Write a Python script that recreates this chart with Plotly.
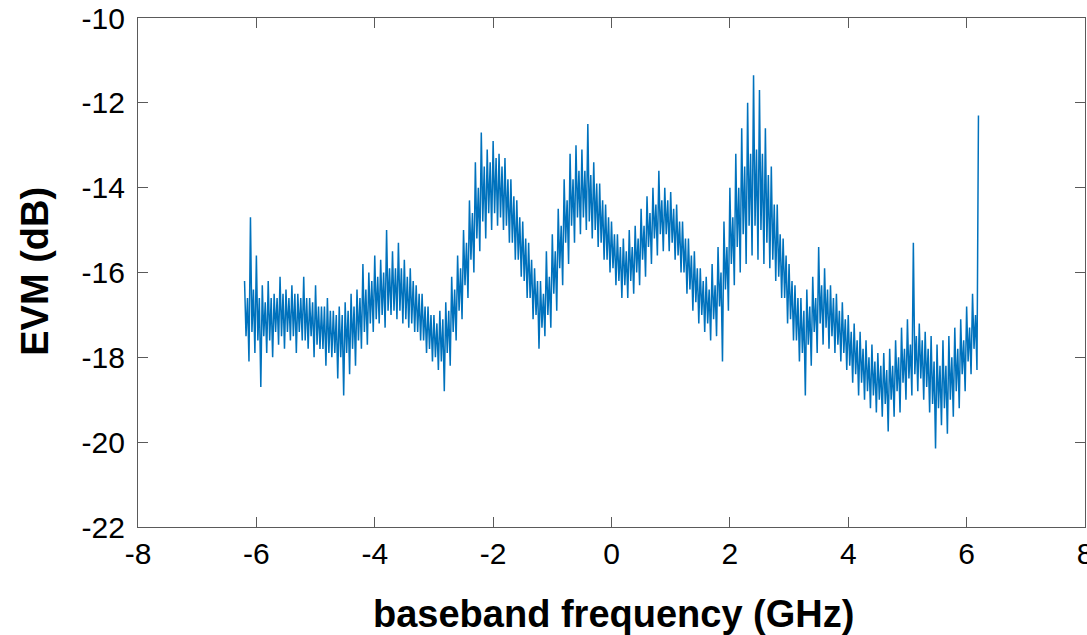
import plotly.graph_objects as go

# Frequency grid start/step (GHz) for the read-off samples
f_start = -6.2
f_step = 0.1

# Outer upper excursions of the EVM trace, read at f_start + k*f_step (dB)
upper_db = [
    -16.2, -14.7, -15.6, -16.3, -16.2, -16.5, -16.1, -16.4, -16.3, -16.5,
    -16.1, -16.6, -16.3, -16.8, -16.6, -16.9, -16.8, -16.7, -16.5, -16.4,
    -15.8, -16.0, -15.6, -15.7, -15.0, -15.5, -15.3, -15.7, -15.9, -16.3,
    -16.5, -16.8, -17.0, -16.9, -16.7, -16.1, -15.6, -15.0, -14.3, -13.4,
    -12.7, -13.1, -12.9, -13.2, -13.3, -13.8, -14.3, -14.8, -15.3, -15.9,
    -16.2, -15.5, -15.1, -14.5, -13.8, -13.2, -13.0, -13.1, -12.5, -13.4,
    -13.9, -14.4, -14.8, -15.1, -15.2, -15.0, -14.9, -14.5, -14.2, -14.0,
    -13.6, -14.0, -14.1, -14.4, -14.8, -15.2, -15.5, -15.9, -16.1, -15.8,
    -15.4, -14.8, -14.0, -13.2, -12.6, -12.0, -11.35, -11.7, -12.6, -13.5,
    -14.4, -15.2, -15.8, -16.3, -16.6, -16.4, -16.1, -15.4, -15.9, -16.3,
    -16.5, -16.7, -17.0, -17.2, -17.4, -17.6, -17.7, -17.9, -17.9, -17.8,
    -17.6, -17.3, -17.1, -15.3, -17.2, -17.4, -17.5, -17.7, -17.6, -17.5,
    -17.3, -17.1, -16.8, -16.5, -12.3,
]

# Dense core: lower edge, read at f_start + (k+0.25)*f_step (dB)
core_low_db = [
    -17.5, -17.4, -17.6, -17.5, -17.6, -17.4, -17.5, -17.4, -17.5, -17.4,
    -17.6, -17.5, -17.7, -17.8, -17.9, -17.9, -18.0, -17.9, -17.8, -17.6,
    -17.4, -17.2, -17.1, -17.0, -16.9, -16.9, -16.9, -17.1, -17.2, -17.4,
    -17.6, -17.8, -18.0, -18.1, -17.9, -17.4, -16.9, -16.3, -15.7, -15.2,
    -14.8, -14.6, -14.6, -14.7, -14.9, -15.3, -15.7, -16.2, -16.6, -17.0,
    -17.3, -17.0, -16.5, -15.9, -15.3, -14.9, -14.7, -14.7, -14.8, -15.0,
    -15.3, -15.7, -15.9, -16.2, -16.3, -16.2, -16.0, -15.7, -15.4, -15.2,
    -15.1, -15.1, -15.3, -15.6, -16.0, -16.4, -16.7, -17.0, -17.2, -17.1,
    -16.8, -16.4, -15.8, -15.4, -15.1, -14.9, -14.9, -15.0, -15.3, -15.7,
    -16.1, -16.6, -17.1, -17.6, -17.9, -17.7, -17.4, -17.2, -17.3, -17.5,
    -17.7, -17.9, -18.2, -18.4, -18.6, -18.8, -18.9, -19.0, -19.1, -19.0,
    -18.8, -18.6, -18.5, -18.4, -18.5, -18.7, -19.1, -19.2, -19.2, -19.0,
    -18.8, -18.4, -18.1, -17.8,
]

# Dense core: upper edge, read at f_start + (k+0.5)*f_step (dB)
core_high_db = [
    -16.6, -16.4, -16.6, -16.7, -16.6, -16.6, -16.5, -16.6, -16.5, -16.6,
    -16.6, -16.7, -16.8, -16.8, -16.9, -17.0, -17.0, -16.9, -16.8, -16.6,
    -16.4, -16.2, -16.1, -16.0, -15.9, -15.9, -15.9, -16.1, -16.2, -16.5,
    -16.8, -17.0, -17.2, -17.1, -16.9, -16.4, -15.9, -15.3, -14.6, -14.0,
    -13.5, -13.4, -13.3, -13.5, -13.8, -14.2, -14.7, -15.2, -15.7, -16.2,
    -16.5, -16.1, -15.5, -14.9, -14.3, -13.8, -13.6, -13.6, -13.7, -13.9,
    -14.3, -14.7, -15.1, -15.4, -15.5, -15.4, -15.2, -14.9, -14.6, -14.4,
    -14.3, -14.3, -14.5, -14.8, -15.2, -15.6, -15.9, -16.2, -16.4, -16.3,
    -16.0, -15.4, -14.7, -14.0, -13.5, -13.2, -13.1, -13.2, -13.7, -14.4,
    -15.1, -15.6, -16.2, -16.6, -16.9, -16.8, -16.6, -16.3, -16.4, -16.6,
    -16.9, -17.1, -17.4, -17.6, -17.8, -18.0, -18.1, -18.2, -18.3, -18.2,
    -18.0, -17.8, -17.7, -17.5, -17.6, -17.8, -18.1, -18.2, -18.2, -18.0,
    -17.8, -17.6, -17.3, -17.0,
]

# Outer lower excursions, read at f_start + (k+0.75)*f_step (dB)
lower_db = [
    -18.1, -17.9, -18.7, -17.9, -18.0, -17.7, -17.8, -17.6, -17.9, -17.6,
    -17.8, -18.0, -17.8, -18.2, -18.0, -18.5, -18.9, -18.4, -18.2, -17.8,
    -17.7, -17.4, -17.2, -17.3, -17.0, -17.1, -17.2, -17.3, -17.4, -17.6,
    -17.9, -18.1, -18.3, -18.8, -18.2, -17.6, -17.1, -16.6, -16.0, -15.5,
    -15.2, -15.0, -14.9, -15.0, -15.3, -15.7, -16.1, -16.6, -17.1, -17.8,
    -17.5, -17.3, -16.9, -16.3, -15.8, -15.3, -15.1, -15.0, -15.2, -15.4,
    -15.7, -16.0, -16.3, -16.6, -16.6, -16.5, -16.3, -16.1, -15.8, -15.6,
    -15.5, -15.5, -15.7, -16.0, -16.5, -16.9, -17.2, -17.4, -17.6, -17.5,
    -18.1, -16.9, -16.3, -16.0, -15.8, -15.6, -15.7, -15.8, -15.9, -16.2,
    -16.6, -17.2, -17.6, -18.1, -18.9, -18.2, -17.9, -17.7, -17.8, -17.9,
    -18.1, -18.3, -18.6, -18.9, -19.0, -19.2, -19.3, -19.4, -19.75, -19.4,
    -19.3, -19.0, -18.9, -18.8, -19.0, -19.3, -20.15, -19.6, -19.8, -19.4,
    -19.2, -18.8, -18.4, -18.3,
]

x_ticks = [-8, -6, -4, -2, 0, 2, 4, 6, 8]
y_ticks = [-22, -20, -18, -16, -14, -12, -10]
x_title = "baseband frequency (GHz)"
y_title = "EVM (dB)"

# Interleave the read samples into one trace in frequency order
freq = []
evm = []
for k, u in enumerate(upper_db):
    f0 = f_start + k * f_step
    freq.append(f0)
    evm.append(u)
    if k < len(lower_db):
        freq += [f0 + 0.25 * f_step, f0 + 0.5 * f_step, f0 + 0.75 * f_step]
        evm += [core_low_db[k], core_high_db[k], lower_db[k]]

fig = go.Figure()
fig.add_trace(go.Scatter(
    x=freq, y=evm, mode="lines",
    line=dict(color="#0072BD", width=1.5),
    showlegend=False, hoverinfo="skip",
))

font_family = "Liberation Sans, Arial, sans-serif"
axis_common = dict(
    showgrid=False, zeroline=False, automargin=False,
    showline=True, linecolor="#5a5a5a", linewidth=1.3, mirror="ticks",
    ticks="inside", ticklen=10, tickwidth=1.3, tickcolor="#5a5a5a",
    ticklabeloverflow="allow",
    tickfont=dict(family=font_family, size=30, color="#000"),
)

fig.update_xaxes(range=[-8, 8], tickvals=x_ticks, ticktext=[str(v) for v in x_ticks],
                 ticklabelstandoff=0, **axis_common)
fig.update_yaxes(range=[-22, -10], tickvals=y_ticks, ticktext=[str(v) for v in y_ticks],
                 ticklabelstandoff=6, **axis_common)

# Figure is a bit wider than the window so the last x label is cut at the edge
fig.update_layout(
    width=1100, height=635,
    margin=dict(l=138, r=15, t=18, b=108),
    plot_bgcolor="white", paper_bgcolor="white",
    annotations=[
        dict(text=x_title, xref="paper", yref="paper", x=0.502, y=-0.17,
             xanchor="center", yanchor="middle", showarrow=False,
             font=dict(family=font_family, size=38, color="#000", weight="bold")),
        dict(text=y_title, xref="paper", yref="paper", x=-0.109, y=0.503,
             xanchor="center", yanchor="middle", showarrow=False, textangle=-90,
             font=dict(family=font_family, size=38, color="#000", weight="bold")),
    ],
)

fig.write_html(
    "out.html",
    config={"displayModeBar": False},
    post_script="document.body.style.margin='0';document.body.style.overflow='hidden';",
)
